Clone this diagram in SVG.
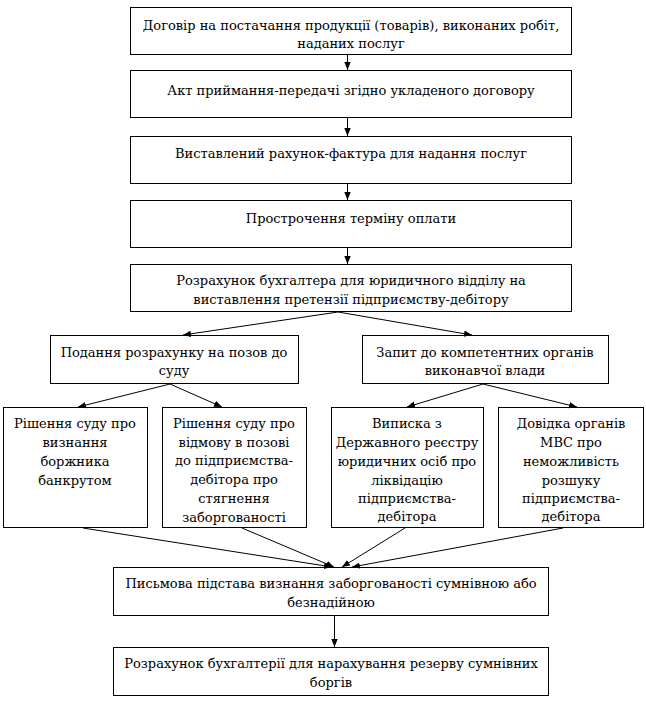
<svg xmlns="http://www.w3.org/2000/svg" width="646" height="708" viewBox="0 0 646 708">
<style>
rect.b{fill:#fff;stroke:#000;stroke-width:1}
text{font-size:13px;fill:#000;text-anchor:middle}
.c line{stroke:#000;stroke-width:1;marker-end:url(#ah)}
</style>
<defs>
<marker id="ah" markerUnits="userSpaceOnUse" markerWidth="8" markerHeight="8" viewBox="0 0 8 8" refX="8" refY="4" orient="auto">
<path d="M0,0.8 L8,4 L0,7.2 Z" fill="#000"/>
</marker>
</defs>
<rect width="646" height="708" fill="#fff"/>
<g font-family="'DejaVu Serif', 'Liberation Serif', serif">
<g id="n1"><rect class="b" x="130.5" y="7.5" width="441" height="47"/><text x="351" y="30">Договір на постачання продукції (товарів), виконаних робіт,</text><text x="351" y="48">наданих послуг</text></g>
<g id="n2"><rect class="b" x="130.5" y="70.5" width="441" height="47"/><text x="351" y="95">Акт приймання-передачі згідно укладеного договору</text></g>
<g id="n3"><rect class="b" x="130.5" y="136.5" width="441" height="47"/><text x="351" y="158">Виставлений рахунок-фактура для надання послуг</text></g>
<g id="n4"><rect class="b" x="130.5" y="200.5" width="441" height="47"/><text x="351" y="223">Прострочення терміну оплати</text></g>
<g id="n5"><rect class="b" x="130.5" y="264.5" width="441" height="47"/><text x="351" y="285">Розрахунок бухгалтера для юридичного відділу на</text><text x="351" y="304">виставлення претензії підприємству-дебітору</text></g>
<g id="n6"><rect class="b" x="50.5" y="335.5" width="248" height="48"/><text x="174" y="357">Подання розрахунку на позов до</text><text x="174" y="375">суду</text></g>
<g id="n7"><rect class="b" x="362.5" y="335.5" width="246" height="48"/><text x="485" y="357">Запит до компетентних органів</text><text x="485" y="375">виконавчої влади</text></g>
<g id="n8"><rect class="b" x="3.5" y="407.5" width="144" height="120"/><text x="75" y="428">Рішення суду про</text><text x="75" y="447">визнання</text><text x="75" y="466">боржника</text><text x="75" y="485">банкрутом</text></g>
<g id="n9"><rect class="b" x="162.5" y="407.5" width="144" height="120"/><text x="234" y="428">Рішення суду про</text><text x="234" y="447">відмову в позові</text><text x="234" y="465">до підприємства-</text><text x="234" y="484">дебітора про</text><text x="234" y="503">стягнення</text><text x="234" y="522">заборгованості</text></g>
<g id="n10"><rect class="b" x="331.5" y="407.5" width="152" height="120"/><text x="407" y="428">Виписка з</text><text x="407" y="447">Державного реєстру</text><text x="407" y="466">юридичних осіб про</text><text x="407" y="485">ліквідацію</text><text x="407" y="503">підприємства-</text><text x="407" y="521">дебітора</text></g>
<g id="n11"><rect class="b" x="498.5" y="407.5" width="145" height="120"/><text x="571" y="428">Довідка органів</text><text x="571" y="447">МВС про</text><text x="571" y="466">неможливість</text><text x="571" y="485">розшуку</text><text x="571" y="503">підприємства-</text><text x="571" y="521">дебітора</text></g>
<g id="n12"><rect class="b" x="113.5" y="567.5" width="435" height="48"/><text x="331" y="588">Письмова підстава визнання заборгованості сумнівною або</text><text x="331" y="607">безнадійною</text></g>
<g id="n13"><rect class="b" x="113.5" y="647.5" width="435" height="48"/><text x="331" y="668">Розрахунок бухгалтерії для нарахування резерву сумнівних</text><text x="331" y="687">боргів</text></g>
</g>
<g id="connectors" class="c">
<line x1="347.5" y1="55" x2="347.5" y2="70"/>
<line x1="347.5" y1="118" x2="347.5" y2="136"/>
<line x1="347.5" y1="184" x2="347.5" y2="200"/>
<line x1="347.5" y1="248" x2="347.5" y2="264"/>
<line x1="338" y1="312" x2="183" y2="335"/>
<line x1="338" y1="312" x2="472" y2="335"/>
<line x1="170" y1="384" x2="78" y2="407"/>
<line x1="170" y1="384" x2="222" y2="407"/>
<line x1="483" y1="384" x2="407" y2="407"/>
<line x1="483" y1="384" x2="577" y2="407"/>
<line x1="83" y1="528" x2="332" y2="567"/>
<line x1="242" y1="528" x2="334" y2="567"/>
<line x1="405" y1="528" x2="342" y2="567"/>
<line x1="563" y1="528" x2="352" y2="567"/>
<line x1="334.5" y1="616" x2="334.5" y2="647"/>
</g>
</svg>
